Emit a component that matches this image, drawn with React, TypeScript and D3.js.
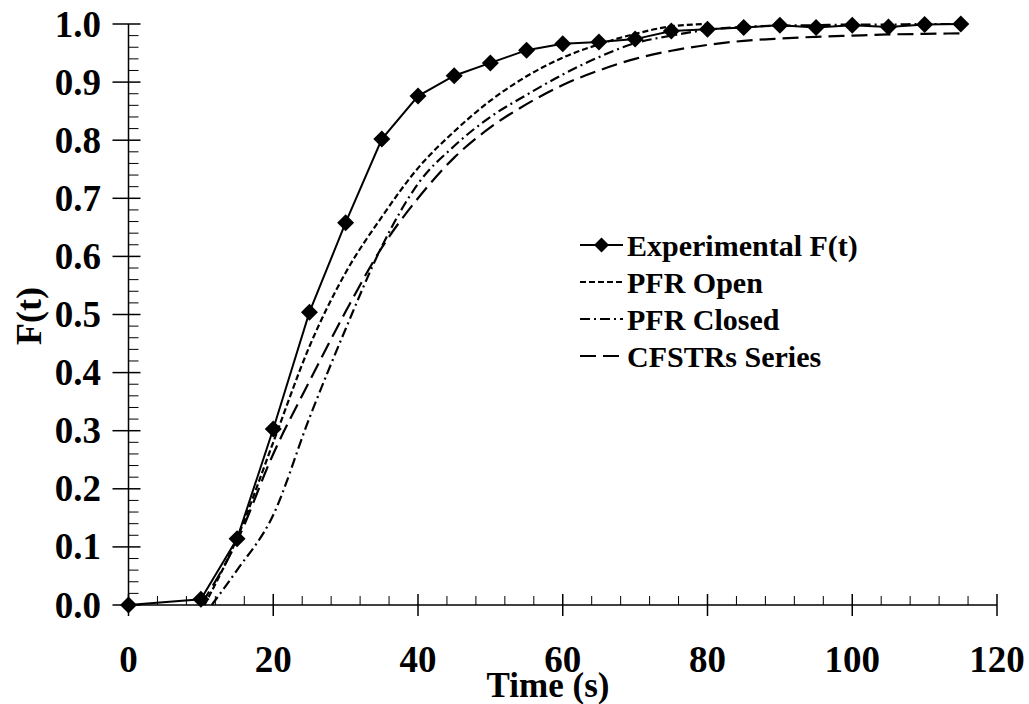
import React from "react";
import * as d3 from "d3";

const W = 1029;
const H = 704;

// Experimental tracer response
const timeExp = [0, 10, 15, 20, 25, 30, 35, 40, 45, 50, 55, 60, 65, 70, 75, 80, 85, 90, 95, 100, 105, 110, 115];
const fExp = [0, 0.01, 0.114, 0.303, 0.504, 0.658, 0.802, 0.876, 0.911, 0.933, 0.955, 0.966, 0.969, 0.974, 0.988, 0.991, 0.994, 0.998, 0.994, 0.998, 0.995, 0.999, 1.0];

// Dispersion model, open vessel
const timeOpen = [10.5, 15, 20, 25, 30, 35, 40, 45, 50, 55, 60, 65, 70, 75, 80];
const fOpen = [0, 0.115, 0.28, 0.445, 0.572, 0.668, 0.752, 0.815, 0.868, 0.91, 0.942, 0.965, 0.983, 0.996, 1.0];

// Dispersion model, closed vessel
const timeClosed = [11.5, 15, 20, 25, 30, 35, 40, 45, 50, 55, 60, 65, 70, 75, 80, 85, 90, 95, 100, 105, 110, 115];
const fClosed = [0, 0.06, 0.155, 0.322, 0.475, 0.617, 0.725, 0.79, 0.84, 0.878, 0.913, 0.943, 0.967, 0.98, 0.99, 0.995, 0.997, 0.998, 0.999, 0.999, 1.0, 1.0];

// Tanks-in-series model
const timeTanks = [10, 15, 20, 25, 30, 35, 40, 45, 50, 55, 60, 65, 70, 75, 80, 85, 90, 95, 100, 105, 110, 115];
const fTanks = [0, 0.11, 0.26, 0.385, 0.505, 0.615, 0.7, 0.77, 0.822, 0.862, 0.895, 0.92, 0.94, 0.954, 0.964, 0.971, 0.975, 0.978, 0.98, 0.982, 0.983, 0.984];

const xTicks = [0, 20, 40, 60, 80, 100, 120];
const yTicks = [0, 0.1, 0.2, 0.3, 0.4, 0.5, 0.6, 0.7, 0.8, 0.9, 1.0];
const legendLabels = ["Experimental F(t)", "PFR Open", "PFR Closed", "CFSTRs Series"];

const FONT = "'Liberation Serif', 'Times New Roman', Times, serif";

const x = d3.scaleLinear().domain([0, 120]).range([128.5, 997]);
const y = d3.scaleLinear().domain([0, 1]).range([605, 24]);

const zip = (ts: number[], fs: number[]) => ts.map((t, i) => [t, fs[i]] as [number, number]);

const straight = d3.line<[number, number]>().x((d) => x(d[0])).y((d) => y(d[1]));
const smooth = d3
  .line<[number, number]>()
  .x((d) => x(d[0]))
  .y((d) => y(d[1]))
  .curve(d3.curveMonotoneX);

const diamond = (cx: number, cy: number, r: number) =>
  `M${cx},${cy - r}L${cx + r},${cy}L${cx},${cy + r}L${cx - r},${cy}Z`;

const series = [
  { label: legendLabels[1], data: zip(timeOpen, fOpen), dash: "6,3", width: 2.2 },
  { label: legendLabels[2], data: zip(timeClosed, fClosed), dash: "10,4,2,4", width: 2.2 },
  { label: legendLabels[3], data: zip(timeTanks, fTanks), dash: "16,7", width: 2.2 },
];

export default function App() {
  const xMinor = d3.range(0, 121, 4).filter((v) => v % 20 !== 0);
  const yMinor = d3.range(0, 51, 1).filter((v) => v % 5 !== 0).map((v) => v / 50);
  const expData = zip(timeExp, fExp);

  const legendX0 = 580;
  const legendX1 = 623;
  const legendRows = [245, 282, 319, 356];

  return (
    <svg
      width={W}
      height={H}
      viewBox={`0 0 ${W} ${H}`}
      style={{ position: "absolute", left: 0, top: 0, background: "#fff" }}
      fontFamily={FONT}
    >
      <rect width={W} height={H} fill="#fff" />

      {/* axes */}
      <g stroke="#000" strokeWidth={1.5}>
        <line x1={x(0)} x2={x(0)} y1={y(1)} y2={y(0)} />
        <line x1={x(0)} x2={x(120)} y1={y(0)} y2={y(0)} />
        {xTicks.map((t) => (
          <line key={`xt${t}`} x1={x(t)} x2={x(t)} y1={y(0) - 11} y2={y(0) + 11} />
        ))}
        {yTicks.map((t) => (
          <line key={`yt${t}`} x1={x(0) - 16} x2={x(0) + 12} y1={y(t)} y2={y(t)} />
        ))}
      </g>
      <g stroke="#000" strokeWidth={1}>
        {xMinor.map((t) => (
          <line key={`xm${t}`} x1={x(t)} x2={x(t)} y1={y(0) - 9} y2={y(0)} />
        ))}
        {yMinor.map((t) => (
          <line key={`ym${t}`} x1={x(0)} x2={x(0) + 10} y1={y(t)} y2={y(t)} />
        ))}
      </g>

      {/* tick labels */}
      <g fontSize={37} fontWeight="bold" fill="#000">
        {xTicks.map((t) => (
          <text key={`xl${t}`} x={x(t)} y={672} textAnchor="middle">
            {t}
          </text>
        ))}
        {yTicks.map((t) => (
          <text key={`yl${t}`} x={101} y={y(t) + 12.5} textAnchor="end">
            {d3.format(".1f")(t)}
          </text>
        ))}
      </g>

      {/* axis titles */}
      <text x={548} y={697} fontSize={35} fontWeight="bold" textAnchor="middle">
        Time (s)
      </text>
      <text
        transform={`translate(41,316) rotate(-90)`}
        fontSize={36}
        fontWeight="bold"
        textAnchor="middle"
      >
        F(t)
      </text>

      {/* model curves */}
      {series.map((s) => (
        <path
          key={s.label}
          d={smooth(s.data) || ""}
          fill="none"
          stroke="#000"
          strokeWidth={s.width}
          strokeDasharray={s.dash}
        />
      ))}

      {/* experimental data */}
      <path d={straight(expData) || ""} fill="none" stroke="#000" strokeWidth={2} />
      {expData.map((d, i) => (
        <path key={`m${i}`} d={diamond(x(d[0]), y(d[1]), 8.5)} fill="#000" />
      ))}

      {/* legend */}
      <g>
        <line x1={legendX0} x2={legendX1} y1={legendRows[0]} y2={legendRows[0]} stroke="#000" strokeWidth={2} />
        <path d={diamond((legendX0 + legendX1) / 2, legendRows[0], 7.5)} fill="#000" />
        {series.map((s, i) => (
          <line
            key={`lg${i}`}
            x1={legendX0}
            x2={legendX1}
            y1={legendRows[i + 1]}
            y2={legendRows[i + 1]}
            stroke="#000"
            strokeWidth={s.width}
            strokeDasharray={s.dash}
          />
        ))}
        {legendLabels.map((l, i) => (
          <text key={`lt${i}`} x={627} y={legendRows[i] + 11} fontSize={30} fontWeight="bold">
            {l}
          </text>
        ))}
      </g>
    </svg>
  );
}
